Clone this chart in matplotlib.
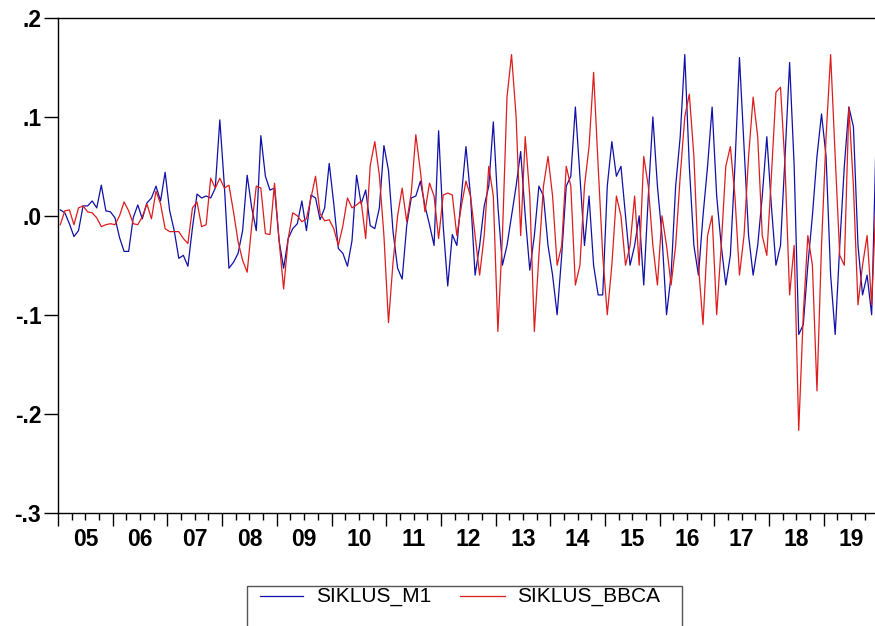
import numpy as np
import matplotlib
matplotlib.use("Agg")
import matplotlib.pyplot as plt

# data bulanan 2005M01 - 2019M12
siklus_m1 = [
    0.006, 0.003, -0.008, -0.021, -0.015, 0.010, 0.010, 0.015, 0.008, 0.031,
    0.005, 0.004, -0.002, -0.022, -0.036, -0.036, -0.002, 0.011, -0.003, 0.013,
    0.018, 0.030, 0.015, 0.044, 0.005, -0.015, -0.043, -0.040, -0.051, -0.012,
    0.022, 0.018, 0.020, 0.018, 0.028, 0.097, 0.030, -0.053, -0.047, -0.038,
    -0.015, 0.041, 0.008, -0.015, 0.081, 0.040, 0.026, 0.028, -0.025, -0.053,
    -0.023, -0.013, -0.008, 0.015, -0.015, 0.021, 0.018, -0.004, 0.008, 0.053,
    0.012, -0.033, -0.038, -0.051, -0.025, 0.041, 0.012, 0.026, -0.010, -0.013,
    0.008, 0.071, 0.046, -0.016, -0.053, -0.064, -0.010, 0.018, 0.020, 0.035,
    0.010, -0.009, -0.030, 0.086, -0.010, -0.071, -0.019, -0.030, 0.020, 0.070,
    0.020, -0.060, -0.030, 0.010, 0.030, 0.095, 0.010, -0.050, -0.030, 0.000,
    0.030, 0.065, 0.000, -0.055, -0.020, 0.030, 0.020, -0.030, -0.060, -0.100,
    -0.040, 0.030, 0.040, 0.110, 0.040, -0.030, 0.020, -0.050, -0.080, -0.080,
    0.030, 0.075, 0.040, 0.050, 0.000, -0.050, -0.030, 0.000, -0.070, 0.020,
    0.100, 0.030, -0.020, -0.100, -0.060, 0.030, 0.080, 0.163, 0.050, -0.030,
    -0.060, 0.000, 0.050, 0.110, 0.020, -0.030, -0.070, -0.040, 0.050, 0.160,
    0.070, -0.020, -0.060, -0.030, 0.020, 0.080, 0.010, -0.050, -0.030, 0.060,
    0.155, 0.050, -0.120, -0.110, -0.050, 0.000, 0.060, 0.103, 0.060, -0.060,
    -0.120, -0.030, 0.050, 0.110, 0.090, -0.030, -0.080, -0.060, -0.100, 0.085,
]

siklus_bbca = [
    -0.009, 0.005, 0.006, -0.009, 0.008, 0.010, 0.004, 0.003, -0.002, -0.011,
    -0.009, -0.008, -0.009, 0.000, 0.014, 0.005, -0.008, -0.009, -0.001, 0.012,
    -0.003, 0.025, 0.012, -0.013, -0.016, -0.016, -0.016, -0.023, -0.028, 0.008,
    0.014, -0.011, -0.009, 0.038, 0.028, 0.038, 0.028, 0.031, 0.004, -0.026,
    -0.045, -0.057, -0.010, 0.030, 0.028, -0.018, -0.019, 0.033, -0.025, -0.074,
    -0.023, 0.003, 0.000, -0.006, -0.003, 0.018, 0.040, 0.002, -0.005, -0.004,
    -0.013, -0.030, -0.010, 0.018, 0.008, 0.011, 0.015, -0.023, 0.051, 0.075,
    0.041, -0.020, -0.108, -0.047, 0.000, 0.028, -0.006, 0.023, 0.082, 0.045,
    0.004, 0.033, 0.020, -0.023, 0.021, 0.023, 0.021, -0.020, 0.010, 0.035,
    0.020, -0.020, -0.060, -0.020, 0.050, 0.020, -0.117, -0.020, 0.120, 0.163,
    0.100, -0.020, 0.080, 0.020, -0.117, -0.040, 0.030, 0.060, 0.020, -0.050,
    -0.030, 0.050, 0.030, -0.070, -0.050, 0.030, 0.070, 0.145, 0.050, -0.040,
    -0.100, -0.050, 0.020, 0.000, -0.050, -0.030, 0.020, -0.050, 0.060, 0.030,
    -0.030, -0.070, 0.000, -0.030, -0.070, -0.030, 0.040, 0.100, 0.123, 0.060,
    -0.050, -0.110, -0.020, 0.000, -0.100, -0.030, 0.050, 0.070, 0.020, -0.060,
    -0.020, 0.060, 0.120, 0.080, -0.020, -0.040, 0.040, 0.125, 0.130, 0.050,
    -0.080, -0.030, -0.217, -0.100, -0.020, -0.050, -0.177, -0.030, 0.080, 0.163,
    0.060, -0.040, -0.050, 0.110, 0.030, -0.090, -0.050, -0.020, -0.090, 0.020,
]

tahun = list(range(2005, 2020))
label_tahun = ["05", "06", "07", "08", "09", "10", "11", "12", "13", "14",
               "15", "16", "17", "18", "19"]
yticks = [-0.3, -0.2, -0.1, 0.0, 0.1, 0.2]
ylabels = ["-.3", "-.2", "-.1", ".0", ".1", ".2"]

plt.rcParams['font.family'] = ['Liberation Sans', 'DejaVu Sans']

n = len(siklus_m1)
waktu = 2005 + (np.arange(n) + 0.5) / 12.0

fig = plt.figure(figsize=(8.75, 6.26), dpi=100)
ax = fig.add_axes([58 / 875, 1 - 512.5 / 626, 820.5 / 875, 494.5 / 626])

ax.plot(waktu, siklus_m1, color='#1010a8', lw=0.9, label='SIKLUS_M1')
ax.plot(waktu, siklus_bbca, color='#dd1c1c', lw=0.9, label='SIKLUS_BBCA')

ax.set_xlim(2005, 2020)
ax.set_ylim(-0.3, 0.2)

# tick tahun (mayor) dan kuartal (minor)
ax.set_xticks(tahun)
ax.set_xticklabels([])
ax.set_xticks(np.arange(2005, 2020.01, 0.25), minor=True)
ax.tick_params(axis='x', which='major', direction='out', length=9, width=1)
ax.tick_params(axis='x', which='minor', direction='out', length=5, width=1)
for th, lb in zip(tahun, label_tahun):
    ax.text(th + 0.5, -0.3 - 0.016, lb, ha='center', va='top',
            fontsize=16.5, fontweight='bold')

ax.set_yticks(yticks)
ax.set_yticklabels(ylabels, fontsize=16.5, fontweight='bold')
ax.tick_params(axis='y', direction='out', length=10, width=1, pad=2)

for s in ax.spines.values():
    s.set_linewidth(1.0)
    s.set_color('black')

# legenda manual (kotaknya terpotong di bawah seperti aslinya)
kotak = plt.Rectangle((247 / 875, -0.05), (682 - 247) / 875, 0.05 + (626 - 586) / 626,
                      transform=fig.transFigure, fill=False, edgecolor='#555555', lw=1.0)
fig.add_artist(kotak)
y_leg = 1 - 596 / 626
fig.add_artist(plt.Line2D([260 / 875, 303 / 875], [y_leg, y_leg],
                          transform=fig.transFigure, color='#1010a8', lw=0.9))
fig.text(316 / 875, y_leg, 'SIKLUS_M1', fontsize=15, va='center', ha='left')
fig.add_artist(plt.Line2D([460 / 875, 505 / 875], [y_leg, y_leg],
                          transform=fig.transFigure, color='#dd1c1c', lw=0.9))
fig.text(517 / 875, y_leg, 'SIKLUS_BBCA', fontsize=15, va='center', ha='left')

plt.savefig('out.png', dpi=100)
